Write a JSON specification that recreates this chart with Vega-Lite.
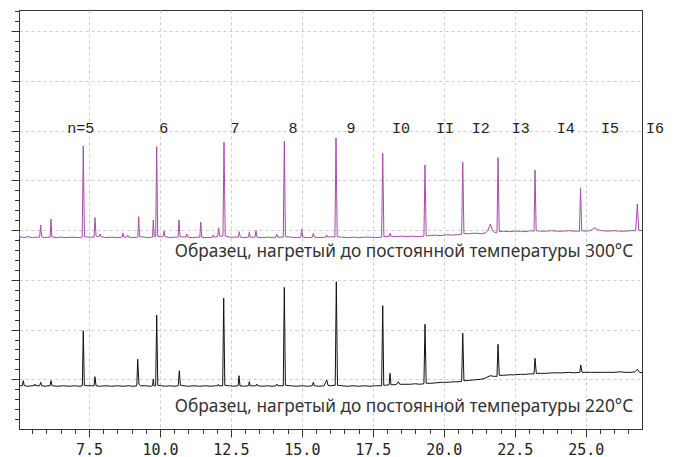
{
"$schema": "https://vega.github.io/schema/vega-lite/v6.json",
"width": 623, "height": 419,
"autosize": {"type": "none"},
"padding": {"left": 19, "top": 10, "right": 33, "bottom": 28},
"background": "white",
"config": {"view": {"stroke": "#333333", "strokeWidth": 1}},
"datasets": {
"traces": [
{"s":"300","x":5.034,"y":3.99},{"s":"300","x":5.06,"y":3.87},{"s":"300","x":5.2,"y":3.85},{"s":"300","x":5.35,"y":3.87},{"s":"300","x":5.5,"y":3.85},{"s":"300","x":5.6,"y":3.86},{"s":"300","x":5.76,"y":3.86},{"s":"300","x":5.798,"y":4.105},{"s":"300","x":5.83,"y":3.87},{"s":"300","x":5.95,"y":3.85},{"s":"300","x":6.05,"y":3.86},{"s":"300","x":6.13,"y":3.86},{"s":"300","x":6.161,"y":4.225},{"s":"300","x":6.19,"y":3.87},{"s":"300","x":6.35,"y":3.85},{"s":"300","x":6.5,"y":3.86},{"s":"300","x":6.7,"y":3.85},{"s":"300","x":6.9,"y":3.86},{"s":"300","x":7.1,"y":3.85},{"s":"300","x":7.26,"y":3.86},{"s":"300","x":7.299,"y":5.694},{"s":"300","x":7.34,"y":3.87},{"s":"300","x":7.5,"y":3.86},{"s":"300","x":7.68,"y":3.86},{"s":"300","x":7.711,"y":4.252},{"s":"300","x":7.75,"y":3.88},{"s":"300","x":7.85,"y":3.87},{"s":"300","x":7.888,"y":3.924},{"s":"300","x":7.92,"y":3.87},{"s":"300","x":8.1,"y":3.85},{"s":"300","x":8.3,"y":3.86},{"s":"300","x":8.5,"y":3.85},{"s":"300","x":8.67,"y":3.86},{"s":"300","x":8.698,"y":3.944},{"s":"300","x":8.73,"y":3.86},{"s":"300","x":8.83,"y":3.86},{"s":"300","x":8.864,"y":3.903},{"s":"300","x":8.9,"y":3.86},{"s":"300","x":9.05,"y":3.85},{"s":"300","x":9.22,"y":3.86},{"s":"300","x":9.251,"y":4.272},{"s":"300","x":9.28,"y":3.87},{"s":"300","x":9.45,"y":3.86},{"s":"300","x":9.6,"y":3.85},{"s":"300","x":9.74,"y":3.86},{"s":"300","x":9.766,"y":4.205},{"s":"300","x":9.8,"y":3.87},{"s":"300","x":9.85,"y":3.87},{"s":"300","x":9.885,"y":5.68},{"s":"300","x":9.92,"y":3.88},{"s":"300","x":10.0,"y":3.87},{"s":"300","x":10.11,"y":3.87},{"s":"300","x":10.143,"y":3.984},{"s":"300","x":10.18,"y":3.87},{"s":"300","x":10.35,"y":3.85},{"s":"300","x":10.5,"y":3.86},{"s":"300","x":10.64,"y":3.86},{"s":"300","x":10.671,"y":4.205},{"s":"300","x":10.71,"y":3.87},{"s":"300","x":10.91,"y":3.86},{"s":"300","x":10.943,"y":3.924},{"s":"300","x":10.98,"y":3.86},{"s":"300","x":11.15,"y":3.85},{"s":"300","x":11.3,"y":3.86},{"s":"300","x":11.405,"y":3.86},{"s":"300","x":11.436,"y":4.165},{"s":"300","x":11.47,"y":3.86},{"s":"300","x":11.65,"y":3.85},{"s":"300","x":11.85,"y":3.86},{"s":"300","x":11.88,"y":3.903},{"s":"300","x":11.91,"y":3.86},{"s":"300","x":12.03,"y":3.87},{"s":"300","x":12.069,"y":4.05},{"s":"300","x":12.1,"y":3.88},{"s":"300","x":12.22,"y":3.88},{"s":"300","x":12.257,"y":5.769},{"s":"300","x":12.3,"y":3.88},{"s":"300","x":12.45,"y":3.86},{"s":"300","x":12.6,"y":3.86},{"s":"300","x":12.765,"y":3.86},{"s":"300","x":12.796,"y":3.97},{"s":"300","x":12.83,"y":3.86},{"s":"300","x":12.95,"y":3.85},{"s":"300","x":13.118,"y":3.86},{"s":"300","x":13.148,"y":3.958},{"s":"300","x":13.18,"y":3.86},{"s":"300","x":13.35,"y":3.86},{"s":"300","x":13.384,"y":3.99},{"s":"300","x":13.42,"y":3.86},{"s":"300","x":13.6,"y":3.85},{"s":"300","x":13.8,"y":3.86},{"s":"300","x":13.95,"y":3.85},{"s":"300","x":14.085,"y":3.86},{"s":"300","x":14.114,"y":3.918},{"s":"300","x":14.15,"y":3.86},{"s":"300","x":14.345,"y":3.86},{"s":"300","x":14.382,"y":5.789},{"s":"300","x":14.42,"y":3.87},{"s":"300","x":14.6,"y":3.86},{"s":"300","x":14.8,"y":3.85},{"s":"300","x":14.965,"y":3.86},{"s":"300","x":14.995,"y":4.018},{"s":"300","x":15.03,"y":3.86},{"s":"300","x":15.2,"y":3.85},{"s":"300","x":15.37,"y":3.86},{"s":"300","x":15.403,"y":3.938},{"s":"300","x":15.44,"y":3.86},{"s":"300","x":15.6,"y":3.85},{"s":"300","x":15.845,"y":3.86},{"s":"300","x":15.876,"y":3.903},{"s":"300","x":15.91,"y":3.86},{"s":"300","x":16.05,"y":3.87},{"s":"300","x":16.165,"y":3.86},{"s":"300","x":16.203,"y":5.855},{"s":"300","x":16.245,"y":3.87},{"s":"300","x":16.4,"y":3.86},{"s":"300","x":16.6,"y":3.85},{"s":"300","x":16.8,"y":3.86},{"s":"300","x":17.0,"y":3.85},{"s":"300","x":17.2,"y":3.86},{"s":"300","x":17.4,"y":3.86},{"s":"300","x":17.6,"y":3.85},{"s":"300","x":17.81,"y":3.86},{"s":"300","x":17.849,"y":5.547},{"s":"300","x":17.89,"y":3.87},{"s":"300","x":18.0,"y":3.87},{"s":"300","x":18.075,"y":3.87},{"s":"300","x":18.106,"y":3.938},{"s":"300","x":18.14,"y":3.88},{"s":"300","x":18.3,"y":3.87},{"s":"300","x":18.5,"y":3.88},{"s":"300","x":18.7,"y":3.87},{"s":"300","x":18.9,"y":3.88},{"s":"300","x":19.1,"y":3.87},{"s":"300","x":19.3,"y":3.88},{"s":"300","x":19.339,"y":5.312},{"s":"300","x":19.38,"y":3.89},{"s":"300","x":19.5,"y":3.89},{"s":"300","x":19.7,"y":3.9},{"s":"300","x":19.9,"y":3.89},{"s":"300","x":20.1,"y":3.91},{"s":"300","x":20.3,"y":3.9},{"s":"300","x":20.5,"y":3.91},{"s":"300","x":20.63,"y":3.92},{"s":"300","x":20.668,"y":5.366},{"s":"300","x":20.71,"y":3.93},{"s":"300","x":20.9,"y":3.93},{"s":"300","x":21.1,"y":3.94},{"s":"300","x":21.3,"y":3.93},{"s":"300","x":21.45,"y":3.94},{"s":"300","x":21.55,"y":3.99},{"s":"300","x":21.64,"y":4.125},{"s":"300","x":21.72,"y":3.99},{"s":"300","x":21.8,"y":3.95},{"s":"300","x":21.875,"y":3.95},{"s":"300","x":21.912,"y":5.459},{"s":"300","x":21.955,"y":3.97},{"s":"300","x":22.1,"y":3.98},{"s":"300","x":22.3,"y":3.97},{"s":"300","x":22.5,"y":3.98},{"s":"300","x":22.7,"y":3.98},{"s":"300","x":22.9,"y":3.97},{"s":"300","x":23.05,"y":3.99},{"s":"300","x":23.18,"y":3.98},{"s":"300","x":23.215,"y":5.211},{"s":"300","x":23.255,"y":3.99},{"s":"300","x":23.4,"y":3.98},{"s":"300","x":23.6,"y":3.98},{"s":"300","x":23.8,"y":3.99},{"s":"300","x":24.0,"y":3.98},{"s":"300","x":24.2,"y":3.98},{"s":"300","x":24.4,"y":3.99},{"s":"300","x":24.6,"y":3.98},{"s":"300","x":24.78,"y":3.98},{"s":"300","x":24.819,"y":4.843},{"s":"300","x":24.86,"y":3.99},{"s":"300","x":25.0,"y":3.98},{"s":"300","x":25.15,"y":3.99},{"s":"300","x":25.25,"y":4.02},{"s":"300","x":25.33,"y":4.05},{"s":"300","x":25.42,"y":4.01},{"s":"300","x":25.55,"y":3.99},{"s":"300","x":25.8,"y":3.98},{"s":"300","x":26.0,"y":3.99},{"s":"300","x":26.2,"y":3.98},{"s":"300","x":26.4,"y":3.98},{"s":"300","x":26.6,"y":3.99},{"s":"300","x":26.76,"y":3.99},{"s":"300","x":26.82,"y":4.527},{"s":"300","x":26.87,"y":4.0},{"s":"300","x":26.984,"y":3.99},
{"s":"220","x":5.034,"y":0.9},{"s":"220","x":5.08,"y":0.87},{"s":"220","x":5.15,"y":0.87},{"s":"220","x":5.185,"y":0.972},{"s":"220","x":5.22,"y":0.87},{"s":"220","x":5.35,"y":0.86},{"s":"220","x":5.5,"y":0.87},{"s":"220","x":5.57,"y":0.87},{"s":"220","x":5.597,"y":0.905},{"s":"220","x":5.63,"y":0.87},{"s":"220","x":5.76,"y":0.87},{"s":"220","x":5.798,"y":0.94},{"s":"220","x":5.83,"y":0.87},{"s":"220","x":5.95,"y":0.86},{"s":"220","x":6.05,"y":0.87},{"s":"220","x":6.13,"y":0.87},{"s":"220","x":6.161,"y":0.972},{"s":"220","x":6.2,"y":0.87},{"s":"220","x":6.4,"y":0.86},{"s":"220","x":6.6,"y":0.87},{"s":"220","x":6.8,"y":0.86},{"s":"220","x":7.0,"y":0.87},{"s":"220","x":7.15,"y":0.86},{"s":"220","x":7.265,"y":0.87},{"s":"220","x":7.299,"y":1.978},{"s":"220","x":7.335,"y":0.88},{"s":"220","x":7.45,"y":0.87},{"s":"220","x":7.68,"y":0.87},{"s":"220","x":7.711,"y":1.052},{"s":"220","x":7.75,"y":0.87},{"s":"220","x":7.9,"y":0.86},{"s":"220","x":8.1,"y":0.87},{"s":"220","x":8.3,"y":0.86},{"s":"220","x":8.5,"y":0.87},{"s":"220","x":8.7,"y":0.86},{"s":"220","x":8.9,"y":0.87},{"s":"220","x":9.05,"y":0.86},{"s":"220","x":9.185,"y":0.87},{"s":"220","x":9.216,"y":1.402},{"s":"220","x":9.26,"y":0.9},{"s":"220","x":9.32,"y":0.87},{"s":"220","x":9.5,"y":0.87},{"s":"220","x":9.65,"y":0.86},{"s":"220","x":9.74,"y":0.87},{"s":"220","x":9.766,"y":1.0},{"s":"220","x":9.79,"y":0.87},{"s":"220","x":9.85,"y":0.87},{"s":"220","x":9.885,"y":2.294},{"s":"220","x":9.925,"y":0.88},{"s":"220","x":10.05,"y":0.87},{"s":"220","x":10.2,"y":0.86},{"s":"220","x":10.35,"y":0.87},{"s":"220","x":10.5,"y":0.86},{"s":"220","x":10.645,"y":0.87},{"s":"220","x":10.682,"y":1.173},{"s":"220","x":10.72,"y":0.88},{"s":"220","x":10.85,"y":0.87},{"s":"220","x":11.0,"y":0.86},{"s":"220","x":11.2,"y":0.87},{"s":"220","x":11.4,"y":0.86},{"s":"220","x":11.6,"y":0.87},{"s":"220","x":11.8,"y":0.86},{"s":"220","x":11.95,"y":0.87},{"s":"220","x":12.03,"y":0.87},{"s":"220","x":12.056,"y":0.899},{"s":"220","x":12.08,"y":0.87},{"s":"220","x":12.21,"y":0.87},{"s":"220","x":12.246,"y":2.63},{"s":"220","x":12.285,"y":0.88},{"s":"220","x":12.45,"y":0.87},{"s":"220","x":12.6,"y":0.86},{"s":"220","x":12.755,"y":0.87},{"s":"220","x":12.785,"y":1.072},{"s":"220","x":12.82,"y":0.87},{"s":"220","x":12.95,"y":0.86},{"s":"220","x":13.12,"y":0.87},{"s":"220","x":13.148,"y":0.952},{"s":"220","x":13.18,"y":0.87},{"s":"220","x":13.38,"y":0.87},{"s":"220","x":13.409,"y":0.905},{"s":"220","x":13.44,"y":0.87},{"s":"220","x":13.6,"y":0.86},{"s":"220","x":13.8,"y":0.87},{"s":"220","x":13.95,"y":0.86},{"s":"220","x":14.085,"y":0.87},{"s":"220","x":14.114,"y":0.905},{"s":"220","x":14.145,"y":0.87},{"s":"220","x":14.345,"y":0.87},{"s":"220","x":14.382,"y":2.851},{"s":"220","x":14.42,"y":0.88},{"s":"220","x":14.6,"y":0.87},{"s":"220","x":14.8,"y":0.86},{"s":"220","x":15.0,"y":0.87},{"s":"220","x":15.2,"y":0.86},{"s":"220","x":15.37,"y":0.87},{"s":"220","x":15.403,"y":0.94},{"s":"220","x":15.44,"y":0.87},{"s":"220","x":15.6,"y":0.86},{"s":"220","x":15.78,"y":0.87},{"s":"220","x":15.876,"y":0.986},{"s":"220","x":15.92,"y":0.88},{"s":"220","x":16.0,"y":0.87},{"s":"220","x":16.175,"y":0.88},{"s":"220","x":16.214,"y":2.964},{"s":"220","x":16.255,"y":0.88},{"s":"220","x":16.4,"y":0.87},{"s":"220","x":16.6,"y":0.86},{"s":"220","x":16.8,"y":0.87},{"s":"220","x":17.0,"y":0.86},{"s":"220","x":17.2,"y":0.87},{"s":"220","x":17.4,"y":0.86},{"s":"220","x":17.6,"y":0.87},{"s":"220","x":17.81,"y":0.87},{"s":"220","x":17.849,"y":2.481},{"s":"220","x":17.885,"y":0.88},{"s":"220","x":17.95,"y":0.88},{"s":"220","x":18.075,"y":0.89},{"s":"220","x":18.106,"y":1.121},{"s":"220","x":18.14,"y":0.89},{"s":"220","x":18.25,"y":0.89},{"s":"220","x":18.34,"y":0.9},{"s":"220","x":18.399,"y":0.952},{"s":"220","x":18.45,"y":0.9},{"s":"220","x":18.6,"y":0.9},{"s":"220","x":18.8,"y":0.9},{"s":"220","x":19.0,"y":0.91},{"s":"220","x":19.15,"y":0.9},{"s":"220","x":19.3,"y":0.91},{"s":"220","x":19.339,"y":2.107},{"s":"220","x":19.38,"y":0.92},{"s":"220","x":19.55,"y":0.92},{"s":"220","x":19.75,"y":0.93},{"s":"220","x":19.95,"y":0.94},{"s":"220","x":20.15,"y":0.94},{"s":"220","x":20.35,"y":0.95},{"s":"220","x":20.5,"y":0.95},{"s":"220","x":20.63,"y":0.96},{"s":"220","x":20.668,"y":1.926},{"s":"220","x":20.71,"y":0.97},{"s":"220","x":20.9,"y":0.98},{"s":"220","x":21.1,"y":0.99},{"s":"220","x":21.3,"y":1.0},{"s":"220","x":21.45,"y":1.02},{"s":"220","x":21.55,"y":1.05},{"s":"220","x":21.64,"y":1.072},{"s":"220","x":21.75,"y":1.06},{"s":"220","x":21.875,"y":1.06},{"s":"220","x":21.912,"y":1.704},{"s":"220","x":21.955,"y":1.08},{"s":"220","x":22.1,"y":1.08},{"s":"220","x":22.3,"y":1.09},{"s":"220","x":22.5,"y":1.09},{"s":"220","x":22.7,"y":1.1},{"s":"220","x":22.9,"y":1.1},{"s":"220","x":23.05,"y":1.11},{"s":"220","x":23.18,"y":1.11},{"s":"220","x":23.215,"y":1.423},{"s":"220","x":23.26,"y":1.12},{"s":"220","x":23.4,"y":1.12},{"s":"220","x":23.6,"y":1.12},{"s":"220","x":23.8,"y":1.13},{"s":"220","x":24.0,"y":1.13},{"s":"220","x":24.2,"y":1.13},{"s":"220","x":24.4,"y":1.14},{"s":"220","x":24.6,"y":1.13},{"s":"220","x":24.79,"y":1.14},{"s":"220","x":24.826,"y":1.288},{"s":"220","x":24.87,"y":1.14},{"s":"220","x":25.0,"y":1.14},{"s":"220","x":25.2,"y":1.14},{"s":"220","x":25.4,"y":1.14},{"s":"220","x":25.6,"y":1.14},{"s":"220","x":25.8,"y":1.14},{"s":"220","x":26.0,"y":1.14},{"s":"220","x":26.2,"y":1.15},{"s":"220","x":26.4,"y":1.14},{"s":"220","x":26.6,"y":1.14},{"s":"220","x":26.74,"y":1.15},{"s":"220","x":26.82,"y":1.201},{"s":"220","x":26.9,"y":1.14},{"s":"220","x":26.984,"y":1.13}
],
"labels": [
{"t":"n=5","x":7.21,"y":5.95},{"t":"6","x":10.13,"y":5.95},{"t":"7","x":12.64,"y":5.95},{"t":"8","x":14.69,"y":5.95},{"t":"9","x":16.73,"y":5.95},{"t":"I0","x":18.49,"y":5.95},{"t":"II","x":20.04,"y":5.95},{"t":"I2","x":21.3,"y":5.95},{"t":"I3","x":22.71,"y":5.95},{"t":"I4","x":24.3,"y":5.95},{"t":"I5","x":25.86,"y":5.95},{"t":"I6","x":27.44,"y":5.95}
],
"notes": [
{"t":"Образец, нагретый до постоянной температуры 300°C","x":26.67,"y":3.47},
{"t":"Образец, нагретый до постоянной температуры 220°C","x":26.67,"y":0.35}
]
},
"layer": [
{
"data": {"name": "traces"},
"mark": {"type": "line", "strokeWidth": 1, "clip": true},
"encoding": {
"x": {"field": "x", "type": "quantitative",
"scale": {"domain": [5.034, 26.984], "nice": false, "zero": false},
"axis": {"title": null, "tickCount": 200,
"values": [5.5,6,6.5,7,7.5,8,8.5,9,9.5,10,10.5,11,11.5,12,12.5,13,13.5,14,14.5,15,15.5,16,16.5,17,17.5,18,18.5,19,19.5,20,20.5,21,21.5,22,22.5,23,23.5,24,24.5,25,25.5,26,26.5],
"labelExpr": "abs(datum.value/2.5 - round(datum.value/2.5)) < 0.001 ? format(datum.value, '.1f') : ''",
"tickSize": {"condition": {"test": "abs(datum.value/2.5 - round(datum.value/2.5)) < 0.001", "value": 8}, "value": 4.5},
"gridOpacity": {"condition": {"test": "abs(datum.value/2.5 - round(datum.value/2.5)) < 0.001", "value": 1}, "value": 0},
"grid": true, "gridColor": "#cccccc", "gridDash": [3, 3], "gridWidth": 1,
"domainColor": "#333333", "tickColor": "#333333",
"labelFont": "DejaVu Sans Mono", "labelFontSize": 15, "labelColor": "#222222",
"labelPadding": 5, "labelFlush": false, "labelOverlap": false}},
"y": {"field": "y", "type": "quantitative",
"scale": {"domain": [0, 8.43], "nice": false, "zero": false},
"axis": {"title": null, "labels": false, "tickCount": 200,
"values": [0.2,0.4,0.6,0.8,1,1.2,1.4,1.6,1.8,2,2.2,2.4,2.6,2.8,3,3.2,3.4,3.6,3.8,4,4.2,4.4,4.6,4.8,5,5.2,5.4,5.6,5.8,6,6.2,6.4,6.6,6.8,7,7.2,7.4,7.6,7.8,8,8.2,8.4],
"tickSize": {"condition": {"test": "abs(datum.value - round(datum.value)) < 0.001", "value": 8}, "value": 4.5},
"gridOpacity": {"condition": {"test": "abs(datum.value - round(datum.value)) < 0.001", "value": 1}, "value": 0},
"grid": true, "gridColor": "#cccccc", "gridDash": [3, 3], "gridWidth": 1,
"domainColor": "#333333", "tickColor": "#333333"}},
"color": {"field": "s", "type": "nominal",
"scale": {"domain": ["300", "220"], "range": ["#a64ca6", "#111111"]}, "legend": null}
}
},
{
"data": {"name": "labels"},
"mark": {"type": "text", "font": "Liberation Mono", "fontSize": 15, "align": "center", "baseline": "alphabetic", "color": "#222222"},
"encoding": {
"x": {"field": "x", "type": "quantitative"},
"y": {"field": "y", "type": "quantitative"},
"text": {"field": "t"}
}
},
{
"data": {"name": "notes"},
"mark": {"type": "text", "font": "Noto Sans", "fontSize": 17.3, "align": "right", "baseline": "alphabetic", "color": "#333333"},
"encoding": {
"x": {"field": "x", "type": "quantitative"},
"y": {"field": "y", "type": "quantitative"},
"text": {"field": "t"}
}
}
]
}
